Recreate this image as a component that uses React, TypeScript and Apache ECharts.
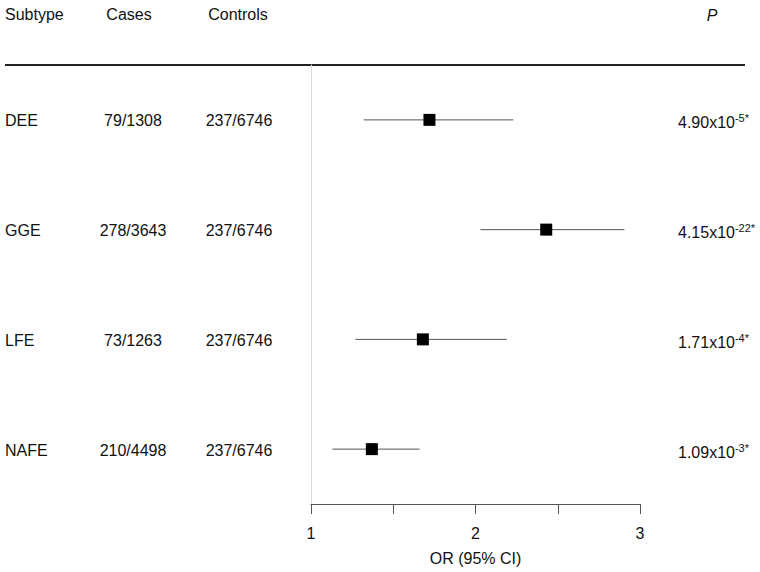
import React, { useEffect, useRef } from "react";
import * as echarts from "echarts";

const subtypes = ["DEE", "GGE", "LFE", "NAFE"];
const cases = ["79/1308", "278/3643", "73/1263", "210/4498"];
const controls = ["237/6746", "237/6746", "237/6746", "237/6746"];
const orValues = [1.72, 2.43, 1.68, 1.37];
const ciLower = [1.32, 2.03, 1.27, 1.13];
const ciUpper = [2.23, 2.905, 2.19, 1.66];
const pMantissa = ["4.90", "4.15", "1.71", "1.09"];
const pExponent = ["-5", "-22", "-4", "-3"];
const headers = ["Subtype", "Cases", "Controls"];
const xTicks = [1, 1.5, 2, 2.5, 3];

const FONT = "'Liberation Sans', Arial, Helvetica, sans-serif";
const FS = 16;

export default function App() {
  const ref = useRef<HTMLDivElement>(null);
  useEffect(() => {
    if (!ref.current) return;
    const chart = echarts.init(ref.current, undefined, { renderer: "svg" });
    const data = subtypes.map((s, i) => [orValues[i], i, ciLower[i], ciUpper[i]]);
    chart.setOption({
      animation: false,
      backgroundColor: "#fff",
      textStyle: { fontFamily: FONT },
      grid: { left: 311, right: 120, top: 65, bottom: 68 },
      xAxis: {
        type: "value",
        min: xTicks[0],
        max: xTicks[xTicks.length - 1],
        interval: 0.5,
        splitLine: { show: false },
        axisLine: { show: true, lineStyle: { color: "#555", width: 1 } },
        axisTick: { show: true, length: 10, lineStyle: { color: "#555" } },
        axisLabel: {
          margin: 21,
          fontSize: FS,
          color: "#111",
          fontFamily: FONT,
          formatter: (v: number) => (Number.isInteger(v) ? String(v) : ""),
        },
        name: "OR (95% CI)",
        nameLocation: "middle",
        nameGap: 46,
        nameTextStyle: { fontSize: FS, color: "#111", fontFamily: FONT },
      },
      yAxis: {
        type: "category",
        data: subtypes,
        inverse: true,
        axisLine: { show: true, lineStyle: { color: "#dcdcdc", width: 1 } },
        axisTick: { show: false },
        axisLabel: { show: false },
        splitLine: { show: false },
      },
      graphic: [
        {
          type: "line",
          shape: { x1: 5, y1: 65, x2: 745, y2: 65 },
          style: { stroke: "#222", lineWidth: 2 },
        },
        ...headers.map((h, i) => ({
          type: "text",
          x: [5, 129, 238][i],
          y: 14,
          style: {
            text: h,
            fontSize: FS,
            fontFamily: FONT,
            fill: "#111",
            align: i === 0 ? "left" : "center",
            verticalAlign: "middle",
          },
        })),
        {
          type: "text",
          x: 712,
          y: 15,
          style: {
            text: "P",
            fontSize: FS,
            fontStyle: "italic",
            fontFamily: FONT,
            fill: "#111",
            align: "center",
            verticalAlign: "middle",
          },
        },
      ],
      series: [
        {
          type: "custom",
          clip: false,
          data,
          renderItem: (params: any, api: any) => {
            const i = params.dataIndex;
            const c = api.coord([api.value(0), api.value(1)]);
            const lo = api.coord([api.value(2), api.value(1)]);
            const hi = api.coord([api.value(3), api.value(1)]);
            const y = c[1];
            const sz = 12;
            const txt = (text: string, x: number, align: string) => ({
              type: "text",
              x,
              y: y + 1,
              style: {
                text,
                fontSize: FS,
                fontFamily: FONT,
                fill: "#111",
                align,
                verticalAlign: "middle",
              },
            });
            return {
              type: "group",
              children: [
                {
                  type: "line",
                  shape: { x1: lo[0], y1: y, x2: hi[0], y2: y },
                  style: { stroke: "#555", lineWidth: 1 },
                },
                {
                  type: "rect",
                  shape: { x: c[0] - sz / 2, y: y - sz / 2, width: sz, height: sz },
                  style: { fill: "#000" },
                },
                txt(subtypes[i], 5, "left"),
                txt(cases[i], 133, "center"),
                txt(controls[i], 239, "center"),
                {
                  type: "text",
                  x: 678,
                  y: y + 3,
                  style: {
                    text: `{b|${pMantissa[i]}x10}{s|${pExponent[i]}*}`,
                    fontFamily: FONT,
                    fill: "#111",
                    align: "left",
                    verticalAlign: "middle",
                    rich: {
                      b: { fontSize: FS, fontFamily: FONT, fill: "#111", color: "#111", lineHeight: 20 },
                      s: {
                        fontSize: 11,
                        fontFamily: FONT,
                        fill: "#111",
                        color: "#111",
                        lineHeight: 20,
                        verticalAlign: "top",
                        padding: [0, 0, 9, 0],
                      },
                    },
                  },
                },
              ],
            };
          },
        },
      ],
    });
    return () => chart.dispose();
  }, []);
  return <div ref={ref} style={{ width: 760, height: 572, position: "absolute", left: 0, top: 0 }} />;
}
